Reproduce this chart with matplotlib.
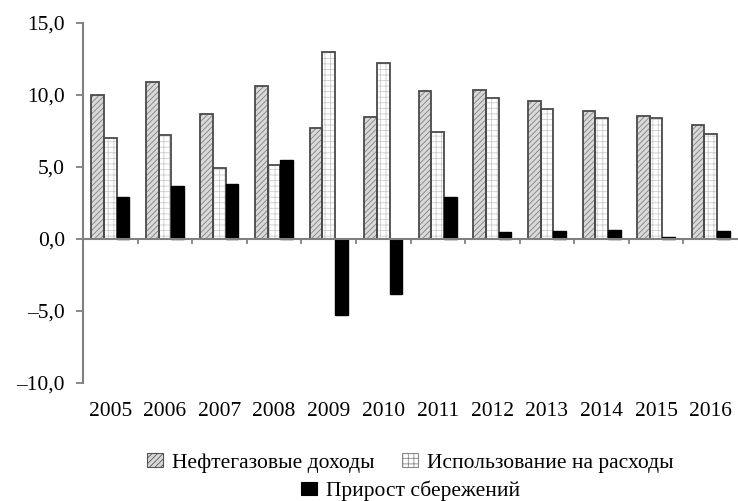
import matplotlib
matplotlib.use("Agg")
import matplotlib.pyplot as plt
import matplotlib.ticker as mticker
from matplotlib.patches import Patch
import numpy as np

years = ["2005", "2006", "2007", "2008", "2009", "2010", "2011", "2012",
         "2013", "2014", "2015", "2016"]
oil_gas = [10.0, 10.9, 8.7, 10.6, 7.7, 8.5, 10.3, 10.35, 9.6, 8.9, 8.55, 7.9]
spending = [7.0, 7.2, 4.9, 5.15, 13.0, 12.2, 7.45, 9.8, 9.0, 8.4, 8.4, 7.3]
savings = [2.95, 3.7, 3.85, 5.5, -5.3, -3.8, 2.9, 0.5, 0.58, 0.62, 0.15, 0.53]
labels = ["Нефтегазовые доходы", "Использование на расходы", "Прирост сбережений"]

plt.rcParams['font.family'] = 'serif'
plt.rcParams['font.serif'] = ['Liberation Serif', 'DejaVu Serif']
plt.rcParams['hatch.linewidth'] = 0.6

fig = plt.figure(figsize=(7.38, 5.01), dpi=100)
ax = fig.add_axes([0.1125, 0.2355, 0.8875, 0.7185])

x = np.arange(len(years))
w = 0.232
edge = '#4a4a4a'

# oil & gas revenue: light gray with diagonal hatch
ax.bar(x - w, oil_gas, w, color='#d9d9d9', edgecolor='#808080', hatch='//////', lw=0, zorder=2)
ax.bar(x - w, oil_gas, w, fill=False, edgecolor=edge, lw=1.3, zorder=3)
# spending: white with fine grid
ax.bar(x, spending, w, color='white', edgecolor='#cccccc', hatch='+++', lw=0, zorder=2)
ax.bar(x, spending, w, fill=False, edgecolor=edge, lw=1.3, zorder=3)
# savings: black
ax.bar(x + w, savings, w, color='black', edgecolor='black', lw=1.0, zorder=3)

ax.set_xlim(-0.5, len(years) - 0.5)
ax.set_ylim(-10, 15)
ax.set_yticks([-10, -5, 0, 5, 10, 15])
ax.yaxis.set_major_formatter(mticker.FuncFormatter(
    lambda v, p: ("\u2013" if v < 0 else "") + f"{abs(v):.1f}".replace('.', ',')))

for s in ['top', 'right', 'bottom']:
    ax.spines[s].set_visible(False)
ax.spines['left'].set_color('#808080')
ax.spines['left'].set_linewidth(1.5)
ax.axhline(0, color='#808080', lw=1.5, zorder=4)

ax.tick_params(axis='y', direction='out', length=5, width=1.3, color='#808080',
               labelsize=15.5, pad=8)
# x ticks at category boundaries drawn just below zero line
ax.set_xticks([])
for b in np.arange(0.5, len(years) - 0.5, 1):
    ax.plot([b, b], [0, -0.28], color='#808080', lw=1.3, zorder=4, clip_on=False)

for i, yr in enumerate(years):
    ax.text(i, -11.3, yr, ha='center', va='top', fontsize=15.5)

h1 = Patch(facecolor='#d9d9d9', edgecolor='#555555', hatch='//////', lw=0.8)
h2 = Patch(facecolor='white', edgecolor='#888888', hatch='+++', lw=0.8)
h3 = Patch(facecolor='black', edgecolor='black', lw=0.8)

leg1 = fig.legend([h1, h2], labels[:2], loc='center', bbox_to_anchor=(0.556, 0.076),
                  ncol=2, frameon=False, fontsize=15.5, handlelength=0.75,
                  handleheight=0.6, handletextpad=0.4, columnspacing=1.3)
leg2 = fig.legend([h3], labels[2:], loc='center', bbox_to_anchor=(0.556, 0.02),
                  frameon=False, fontsize=15.5, handlelength=0.75,
                  handleheight=0.6, handletextpad=0.4)

fig.savefig("out.png", dpi=100)
